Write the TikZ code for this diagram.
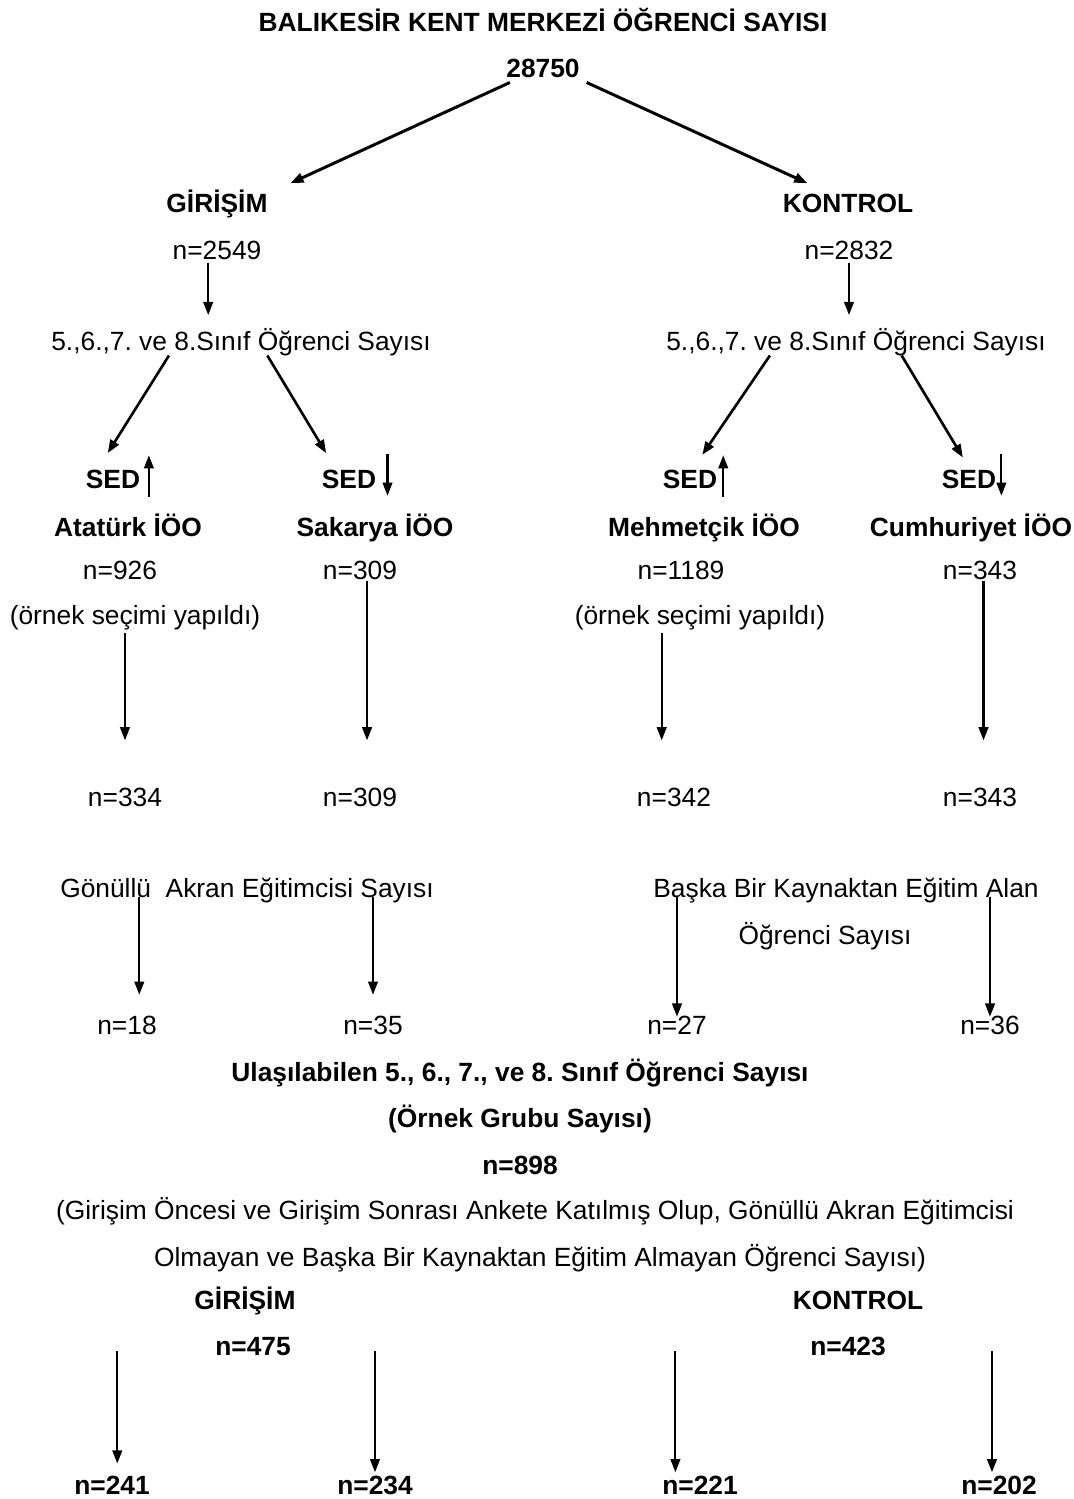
\documentclass[tikz,border=0pt]{standalone}
\usepackage{fontspec}
\setmainfont{Liberation Sans}
\usetikzlibrary{arrows.meta}
\frenchspacing
\tikzset{%
    >={Triangle[length=7.5pt,width=5.5pt]}, % dolu ok uclari
    inner sep=0pt,%
    outer sep=3pt,%
    yazi/.style={font=\fontsize{15}{18}\selectfont,text height=12.5pt,text depth=2pt},%
    kalin/.style={yazi,font=\fontsize{15}{18}\selectfont\bfseries},%
    ok/.style={->,line width=1.2pt},%
    capraz/.style={->,line width=1.5pt}%
    }

\begin{document}
\begin{tikzpicture}[x=0.02cm,y=-0.02cm]
    \useasboundingbox (0,0) rectangle (1073,1499);
    % ust kisim
    \node[kalin] (baslik) at (543,22) {BALIKESİR KENT MERKEZİ ÖĞRENCİ SAYISI};
    \node[kalin] (toplam) at (543,68) {28750};
    \node[kalin] (gir) at (217,203) {GİRİŞİM};
    \node[kalin] (kon) at (848,203) {KONTROL};
    \node[yazi] (nGir) at (217,250) {n=2549};
    \node[yazi] (nKon) at (849,250) {n=2832};
    \node[yazi] (sinifL) at (241,341) {5.,6.,7. ve 8.Sınıf Öğrenci Sayısı};
    \node[yazi] (sinifR) at (856,341) {5.,6.,7. ve 8.Sınıf Öğrenci Sayısı};
    \draw[capraz,line width=1.7pt] ([xshift=5pt,yshift=2pt]toplam.south west) -- ([xshift=10pt,yshift=1pt]gir.north east);
    \draw[capraz,line width=1.7pt] ([xshift=1pt,yshift=2pt]toplam.south east) -- ([xshift=17pt,yshift=1pt]kon.north west);
    \draw[ok,shorten >=4.5pt] ([xshift=-5pt,yshift=3pt]nGir.south) -- ([xshift=-5pt]nGir.south |- sinifL.north);
    \draw[ok,shorten >=4.5pt] ([yshift=3pt]nKon.south) -- (nKon.south |- sinifR.north);

    % okullar
    \node[kalin] (sedA) at (113,479) {SED};
    \node[kalin] (sedB) at (349,479) {SED};
    \node[kalin] (sedC) at (690,479) {SED};
    \node[kalin] (sedD) at (969,479) {SED};
    \draw[capraz] ([xshift=-41pt,yshift=2pt]sinifL.south) -- ([xshift=-3pt,yshift=4.5pt]sedA.north);
    \draw[capraz] ([xshift=15pt,yshift=2pt]sinifL.south) -- ([xshift=-13pt,yshift=4.5pt]sedB.north);
    \draw[capraz] ([xshift=-49pt,yshift=2pt]sinifR.south) -- ([xshift=7pt,yshift=3.5pt]sedC.north);
    \draw[capraz] ([xshift=26pt,yshift=2pt]sinifR.south) -- ([xshift=-3.5pt,yshift=2pt]sedD.north);
    \draw[ok] ([xshift=2pt,yshift=-10pt]sedA.east) -- ([xshift=2pt,yshift=13.5pt]sedA.east);
    \draw[ok] ([xshift=3.5pt,yshift=14.5pt]sedB.east) -- ([xshift=3.5pt,yshift=-9.5pt]sedB.east);
    \draw[ok] ([xshift=0.5pt,yshift=-10pt]sedC.east) -- ([xshift=0.5pt,yshift=13.5pt]sedC.east);
    \draw[ok] ([yshift=14.5pt]sedD.east) -- ([yshift=-9.5pt]sedD.east);
    \node[kalin] (okulA) at (128,527) {Atatürk İÖO};
    \node[kalin] (okulB) at (375,527) {Sakarya İÖO};
    \node[kalin] (okulC) at (704,527) {Mehmetçik İÖO};
    \node[kalin] (okulD) at (971,527) {Cumhuriyet İÖO};
    \node[yazi] (nA) at (120,570) {n=926};
    \node[yazi] (nB) at (360,570) {n=309};
    \node[yazi] (nC) at (681,570) {n=1189};
    \node[yazi] (nD) at (980,570) {n=343};
    \node[yazi] (secA) at (135,615) {(örnek seçimi yapıldı)};
    \node[yazi] (secC) at (700,615) {(örnek seçimi yapıldı)};

    % orneklem
    \node[yazi] (mA) at (125,797) {n=334};
    \node[yazi] (mB) at (360,797) {n=309};
    \node[yazi] (mC) at (674,797) {n=342};
    \node[yazi] (mD) at (980,797) {n=343};
    \draw[ok,shorten >=22pt] (mA.north |- secA.south) -- (mA.north);
    \draw[ok,shorten >=22pt] ([xshift=4pt,yshift=4pt]mB.north |- nB.south) -- ([xshift=4pt]mB.north);
    \draw[ok,shorten >=22pt] ([xshift=-7pt]mC.north |- secC.south) -- ([xshift=-7pt]mC.north);
    \draw[ok,shorten >=22pt] ([xshift=2pt,yshift=4pt]mD.north |- nD.south) -- ([xshift=2pt]mD.north);

    % gonullu ve baska kaynak
    \node[yazi] (gonullu) at (247,888) {Gönüllü\ \ Akran Eğitimcisi Sayısı};
    \node[yazi] (baska) at (846,888) {Başka Bir Kaynaktan Eğitim Alan};
    \node[yazi] (baska2) at (825,935) {Öğrenci Sayısı};
    \node[yazi] (kA) at (127,1025) {n=18};
    \node[yazi] (kB) at (373,1025) {n=35};
    \node[yazi] (kC) at (677,1025) {n=27};
    \node[yazi] (kD) at (990,1025) {n=36};
    \draw[ok,shorten >=7pt] ([xshift=7pt]kA.north |- gonullu.base) -- ([xshift=7pt]kA.north);
    \draw[ok,shorten >=7pt] (kB.north |- gonullu.base) -- (kB.north);
    \draw[ok,shorten >=-5.5pt] (kC.north |- baska.base) -- (kC.north);
    \draw[ok,shorten >=-5.5pt] (kD.north |- baska.base) -- (kD.north);

    % ulasilabilen ogrenci
    \node[kalin] (ulas) at (520,1072) {Ulaşılabilen 5., 6., 7., ve 8. Sınıf Öğrenci Sayısı};
    \node[kalin] (grup) at (520,1118) {(Örnek Grubu Sayısı)};
    \node[kalin] (n898) at (520,1165) {n=898};
    \node[yazi] (acik1) at (535,1210) {(Girişim Öncesi ve Girişim Sonrası Ankete Katılmış Olup, Gönüllü Akran Eğitimcisi};
    \node[yazi] (acik2) at (540,1257) {Olmayan ve Başka Bir Kaynaktan Eğitim Almayan Öğrenci Sayısı)};
    \node[kalin] (gir2) at (245,1300) {GİRİŞİM};
    \node[kalin] (kon2) at (858,1300) {KONTROL};
    \node[kalin] (n475) at (253,1346) {n=475};
    \node[kalin] (n423) at (848,1346) {n=423};
    \node[kalin] (n241) at (112,1485) {n=241};
    \node[kalin] (n234) at (375,1485) {n=234};
    \node[kalin] (n221) at (700,1485) {n=221};
    \node[kalin] (n202) at (999,1485) {n=202};
    \draw[ok,shorten >=2pt] ([xshift=3pt,yshift=-3pt]n241.north |- n475.east) -- ([xshift=3pt]n241.north);
    \draw[ok,shorten >=-3pt] ([yshift=-3pt]n234.north |- n475.east) -- (n234.north);
    \draw[ok,shorten >=-3pt] ([xshift=-14pt,yshift=-3pt]n221.north |- n423.west) -- ([xshift=-14pt]n221.north);
    \draw[ok,shorten >=-3pt] ([xshift=-4pt,yshift=-3pt]n202.north |- n423.east) -- ([xshift=-4pt]n202.north);
\end{tikzpicture}
\end{document}
